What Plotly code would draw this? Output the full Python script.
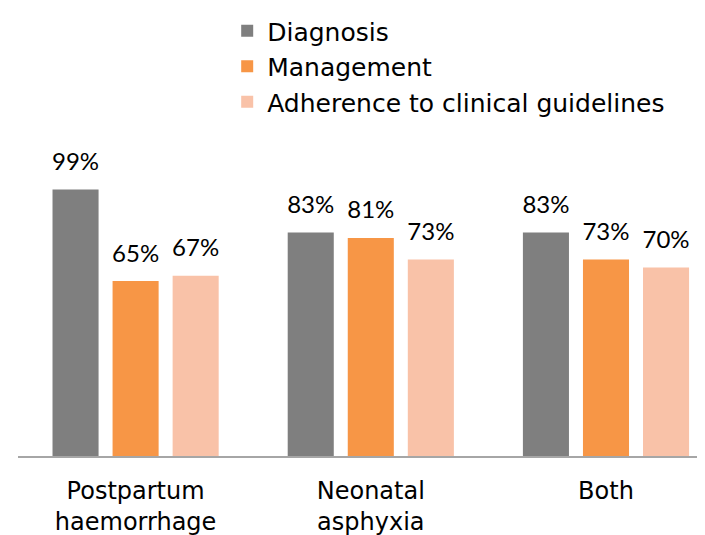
import plotly.graph_objects as go

categories = ["Postpartum<br>haemorrhage", "Neonatal<br>asphyxia", "Both"]
diagnosis = [99, 83, 83]
management = [65, 81, 73]
adherence = [67, 73, 70]

series = [
    ("Diagnosis", diagnosis, "#7F7F7F"),
    ("Management", management, "#F79646"),
    ("Adherence to clinical guidelines", adherence, "#F9C2A8"),
]

text_font = "'DejaVu Sans', sans-serif"
num_font = "Lato, sans-serif"

fig = go.Figure()
for name, vals, color in series:
    fig.add_trace(
        go.Bar(
            x=categories,
            y=vals,
            name=name,
            marker=dict(color=color, line=dict(width=0)),
            hoverinfo="skip",
        )
    )

# value labels, placed with grouped scatter so they sit a bit higher above the bars
for name, vals, color in series:
    fig.add_trace(
        go.Scatter(
            x=categories,
            y=vals,
            mode="markers+text",
            text=[f"{v}%" for v in vals],
            textposition="top center",
            textfont=dict(family=num_font, size=24, color="#000000"),
            marker=dict(size=20, opacity=0),
            showlegend=False,
            hoverinfo="skip",
            cliponaxis=False,
        )
    )

fig.update_layout(
    width=705,
    height=535,
    barmode="group",
    bargap=0.234,
    bargroupgap=0.233,
    scattermode="group",
    scattergap=0.234,
    margin=dict(l=10, r=0, t=122, b=87),
    paper_bgcolor="white",
    plot_bgcolor="white",
    font=dict(family=text_font, size=25, color="#000000"),
    legend=dict(
        orientation="v",
        x=0.301,
        xanchor="left",
        y=1.406,
        yanchor="top",
        font=dict(family=text_font, size=25),
        itemclick=False,
        tracegroupgap=0,
    ),
)
fig.update_xaxes(
    range=[-0.5, 2.455],
    showline=True,
    linecolor="#A6A6A6",
    linewidth=2,
    ticks="",
    showgrid=False,
    ticklabelstandoff=12,
    tickfont=dict(family=text_font, size=24),
)
fig.update_yaxes(range=[0, 118.5], visible=False, showgrid=False)

fig.write_html("out.html")
